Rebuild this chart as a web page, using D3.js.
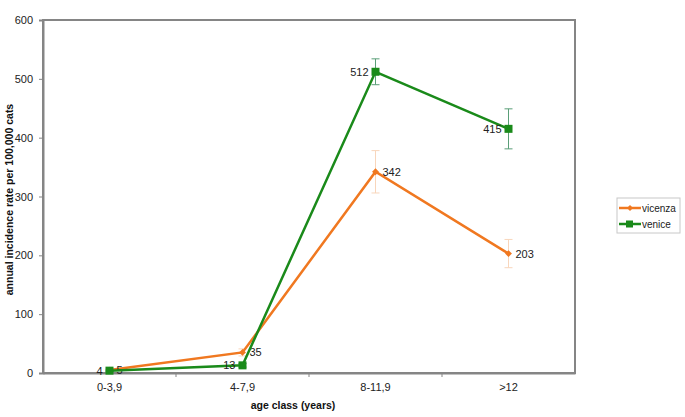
<!DOCTYPE html>
<html><head><meta charset="utf-8">
<script src="https://cdn.jsdelivr.net/npm/d3@7"></script>
<style>body{margin:0;background:#fff}svg{display:block;font-family:"Liberation Sans",Arial,sans-serif}</style>
</head><body><svg id="c" width="685" height="417"></svg>
<script>
const categories = ["0-3,9","4-7,9","8-11,9",">12"];
const vicenza = [5, 35, 342, 203];
const vicenzaErr = [2, 6, 36, 24];
const venice = [4, 13, 512, 415];
const veniceErr = [1, 3, 22, 34];
const yTicks = [0,100,200,300,400,500,600];

const svg = d3.select("#c");
const L=43, R=575, T=20, B=373;
const x = d3.scaleBand().domain(categories).range([L,R]);
const y = d3.scaleLinear().domain([0,600]).range([B,T]);

// frame
svg.append("rect").attr("x",L).attr("y",T).attr("width",R-L).attr("height",B-T)
  .attr("fill","none").attr("stroke","#858585").attr("stroke-width",2);

// y axis
const ya = svg.append("g").attr("transform",`translate(${L},0)`)
  .call(d3.axisLeft(y).tickValues(yTicks).tickSize(4).tickPadding(6));
ya.select(".domain").attr("stroke","#858585").attr("stroke-width",2);
ya.selectAll(".tick line").attr("stroke","#858585");
ya.selectAll("text").attr("font-size",11).attr("fill","#222").style("font-family","Liberation Sans, Arial");

// x axis
const xa = svg.append("g").attr("transform",`translate(0,${B})`)
  .call(d3.axisBottom(x).tickSize(0).tickPadding(10));
xa.select(".domain").attr("stroke","#858585").attr("stroke-width",2);
xa.selectAll("text").attr("font-size",11).attr("fill","#222").style("font-family","Liberation Sans, Arial");
// boundary ticks
svg.append("g").selectAll("line").data(categories.slice(1)).join("line")
  .attr("x1",d=>x(d)).attr("x2",d=>x(d)).attr("y1",B).attr("y2",B+4)
  .attr("stroke","#858585");

// axis titles
svg.append("text").attr("x",(L+R)/2-16).attr("y",409).attr("text-anchor","middle")
  .attr("font-size",10.5).attr("font-weight","bold").attr("fill","#111").text("age class (years)");
svg.append("text").attr("transform",`translate(13,${(T+B)/2+3}) rotate(-90)`).attr("text-anchor","middle")
  .attr("font-size",10.5).attr("font-weight","bold").attr("fill","#111").text("annual incidence rate per 100,000 cats");

const cx = d => x(d)+x.bandwidth()/2;
const series = [
  {name:"vicenza", vals:vicenza, err:vicenzaErr, color:"#f07820", errColor:"#f8d6bc", marker:"diamond", lab:"right"},
  {name:"venice", vals:venice, err:veniceErr, color:"#1a8a1a", errColor:"#5a9e78", marker:"square", lab:"left"}
];
const line = d3.line().x((d,i)=>cx(categories[i])).y(d=>y(d));

series.forEach(s=>{
  const g = svg.append("g");
  // error bars
  s.vals.forEach((v,i)=>{
    const px = cx(categories[i]);
    const e = s.err[i];
    g.append("line").attr("x1",px).attr("x2",px).attr("y1",y(v+e)).attr("y2",y(v-e)).attr("stroke",s.errColor).attr("stroke-width",1);
    [v+e,v-e].forEach(w=>g.append("line").attr("x1",px-4).attr("x2",px+4).attr("y1",y(w)).attr("y2",y(w)).attr("stroke",s.errColor).attr("stroke-width",1));
  });
  g.append("path").attr("d",line(s.vals)).attr("fill","none").attr("stroke",s.color).attr("stroke-width",2.5);
  s.vals.forEach((v,i)=>{
    const px = cx(categories[i]), py=y(v);
    if(s.marker==="square") g.append("rect").attr("x",px-4).attr("y",py-4).attr("width",8).attr("height",8).attr("fill",s.color);
    else g.append("path").attr("d",d3.symbol(d3.symbolDiamond2,30)()).attr("transform",`translate(${px},${py})`).attr("fill",s.color);
    g.append("text").attr("x",s.lab==="right"?px+7:px-7).attr("y",py+4)
      .attr("text-anchor",s.lab==="right"?"start":"end").attr("font-size",11).attr("fill","#222").text(v);
  });
});

// legend
const lg = svg.append("g");
lg.append("rect").attr("x",617).attr("y",198).attr("width",63).attr("height",35).attr("fill","#fff").attr("stroke","#c8c8c8");
series.forEach((s,i)=>{
  const yy = 208+i*16;
  lg.append("line").attr("x1",619).attr("x2",641).attr("y1",yy).attr("y2",yy).attr("stroke",s.color).attr("stroke-width",2.5);
  if(s.marker==="square") lg.append("rect").attr("x",626).attr("y",yy-3.5).attr("width",7).attr("height",7).attr("fill",s.color);
  else lg.append("path").attr("d",d3.symbol(d3.symbolDiamond2,24)()).attr("transform",`translate(630,${yy})`).attr("fill",s.color);
  lg.append("text").attr("x",642).attr("y",yy+3.5).attr("font-size",10).attr("fill","#222").text(s.name);
});
</script></body></html>
